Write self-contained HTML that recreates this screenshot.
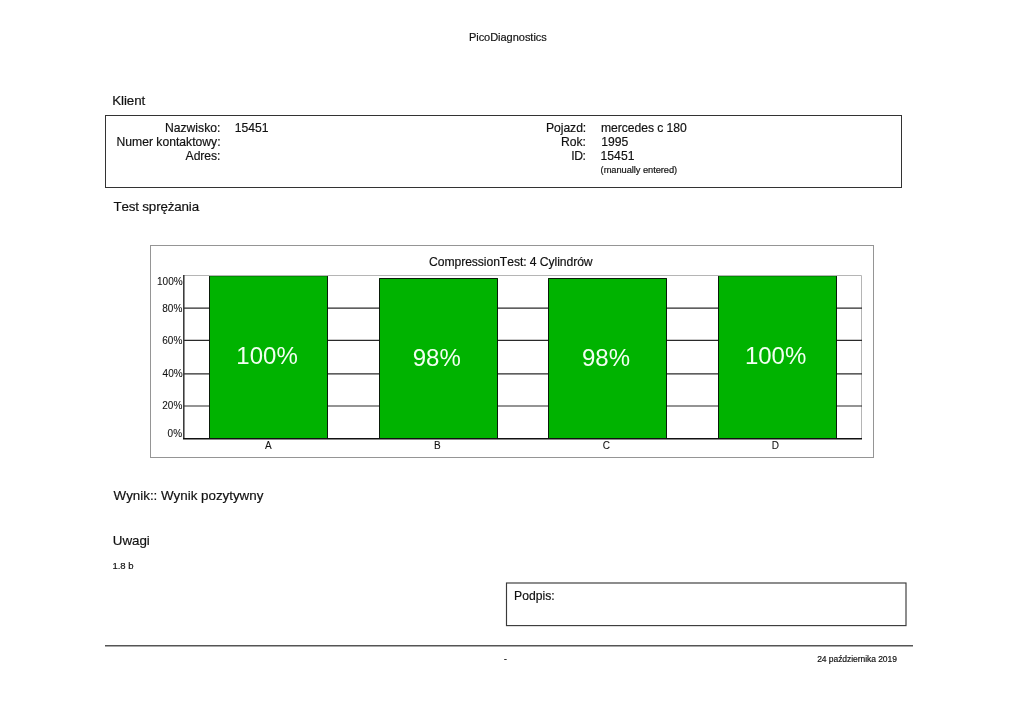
<!DOCTYPE html>
<html lang="pl">
<head>
<meta charset="utf-8">
<title>PicoDiagnostics</title>
<style>
html,body{margin:0;padding:0;background:#fff;}
body{width:1024px;height:724px;overflow:hidden;position:relative;}
svg{position:absolute;left:0;top:0;display:block;will-change:transform;}
text{font-kerning:none;font-family:"Liberation Sans",Arial,sans-serif;fill:#111;stroke:#111;stroke-width:0.18px;}
text.t{stroke-width:0.08px;}
text.w{fill:#f2fff2;stroke:none;}
</style>
</head>
<body>
<svg width="1024" height="724" viewBox="0 0 1024 724">
  <!-- header -->
  <text id="pico" x="468.91" y="40.80" font-size="11" textLength="77.85" lengthAdjust="spacing">PicoDiagnostics</text>

  <!-- Klient -->
  <text id="klient" x="112.28" y="105.30" font-size="13.38" textLength="32.94" lengthAdjust="spacing">Klient</text>
  <rect x="105.5" y="115.5" width="796" height="72" fill="none" stroke="#333" stroke-width="1"/>
  <text id="nazw" x="164.98" y="131.50" font-size="12.16">Nazwisko:</text>
  <text id="numer" x="116.52" y="145.50" font-size="12.16">Numer kontaktowy:</text>
  <text id="adres" x="185.62" y="159.50" font-size="12.16" textLength="34.77" lengthAdjust="spacing">Adres:</text>
  <text id="v15451a" x="234.81" y="131.50" font-size="12.16">15451</text>
  <text id="pojazd" x="545.98" y="131.50" font-size="12.16" textLength="40.26" lengthAdjust="spacing">Pojazd:</text>
  <text id="rok" x="561.10" y="145.50" font-size="12.16" textLength="24.81" lengthAdjust="spacing">Rok:</text>
  <text id="id" x="571.35" y="159.50" font-size="12.16" textLength="14.65" lengthAdjust="spacing">ID:</text>
  <text id="merc" x="601.05" y="131.50" font-size="12.16" textLength="85.64" lengthAdjust="spacing">mercedes c 180</text>
  <text id="y1995" x="601.16" y="145.50" font-size="12.16">1995</text>
  <text id="v15451b" x="600.60" y="159.50" font-size="12.16">15451</text>
  <text id="manual" x="600.62" y="172.80" font-size="9.3" textLength="76.57" lengthAdjust="spacing">(manually entered)</text>

  <!-- Test sprezania -->
  <text id="test" x="113.40" y="210.80" font-size="13.38" textLength="85.72" lengthAdjust="spacing">Test sprężania</text>

  <!-- chart -->
  <rect x="150.5" y="245.5" width="723" height="212" fill="#fff" stroke="#959595" stroke-width="1"/>
  <text id="title" x="429.03" y="266.00" font-size="12.16" textLength="163.61" lengthAdjust="spacing">CompressionTest: 4 Cylindrów</text>
  <path d="M184 275.5H861.5V438" fill="none" stroke="#b5b5b5" stroke-width="1"/>
  <g stroke="#2a2a2a" stroke-width="1.15">
    <path d="M184 308.07H862"/>
    <path d="M184 340.4H862"/>
    <path d="M184 373.85H862"/>
    <path d="M184 406H862"/>
  </g>
  <g fill="#00b300">
    <rect x="209" y="276" width="119" height="162"/>
    <rect x="379" y="278" width="119" height="160"/>
    <rect x="548" y="278" width="119" height="160"/>
    <rect x="718" y="276" width="119" height="162"/>
  </g>
  <g stroke="#0a1a0a" stroke-width="1" fill="none">
    <path d="M209.5 276V438M327.5 276V438"/>
    <path d="M379.5 438V278.5H497.5V438"/>
    <path d="M548.5 438V278.5H666.5V438"/>
    <path d="M718.5 276V438M836.5 276V438"/>
  </g>
  <path d="M209 276.5H328M718 276.5H837" stroke="#0a4a0a" stroke-opacity="0.35" stroke-width="1"/>
  <path d="M183.8 275V439" stroke="#333" stroke-width="1.5" fill="none"/>
  <path d="M183 438.7H862" stroke="#111" stroke-width="1.5" fill="none"/>
  <text id="y100" x="157.06" y="285.00" font-size="10" class="t">100%</text>
  <text id="y80" x="162.29" y="311.70" font-size="10" class="t">80%</text>
  <text id="y60" x="162.32" y="344.00" font-size="10" class="t">60%</text>
  <text id="y40" x="162.62" y="377.10" font-size="10" class="t">40%</text>
  <text id="y20" x="162.32" y="409.30" font-size="10" class="t">20%</text>
  <text id="y0" x="167.60" y="437.10" font-size="10" class="t">0%</text>
  <text id="bA" x="236.37" y="363.80" font-size="24" class="w">100%</text>
  <text id="bB" x="412.78" y="366.20" font-size="24" class="w">98%</text>
  <text id="bC" x="582.03" y="366.20" font-size="24" class="w">98%</text>
  <text id="bD" x="744.88" y="363.80" font-size="24" class="w">100%</text>
  <text id="xA" x="265.02" y="448.70" font-size="10" class="t">A</text>
  <text id="xB" x="433.94" y="448.70" font-size="10" class="t">B</text>
  <text id="xC" x="602.78" y="448.70" font-size="10" class="t">C</text>
  <text id="xD" x="771.86" y="448.70" font-size="10" class="t">D</text>

  <!-- Wynik / Uwagi -->
  <text id="wynik" x="113.58" y="500.30" font-size="13.38" textLength="149.81" lengthAdjust="spacing">Wynik:: Wynik pozytywny</text>
  <text id="uwagi" x="112.78" y="544.70" font-size="13.38" textLength="37.04" lengthAdjust="spacing">Uwagi</text>
  <text id="v18b" x="112.39" y="568.80" font-size="9.55">1.8 b</text>

  <!-- Podpis -->
  <rect x="506.5" y="583" width="399.5" height="42.6" fill="none" stroke="#3a3a3a" stroke-width="1.15"/>
  <text id="podpis" x="514.10" y="600.00" font-size="12.16">Podpis:</text>

  <!-- footer -->
  <path d="M105 645.8H913" stroke="#555" stroke-width="1.4" fill="none"/>
  <text id="dash" x="504.11" y="662.00" font-size="8.5">-</text>
  <text id="date" x="817.16" y="661.70" font-size="8.5" textLength="79.77" lengthAdjust="spacing">24 października 2019</text>
</svg>
</body>
</html>
